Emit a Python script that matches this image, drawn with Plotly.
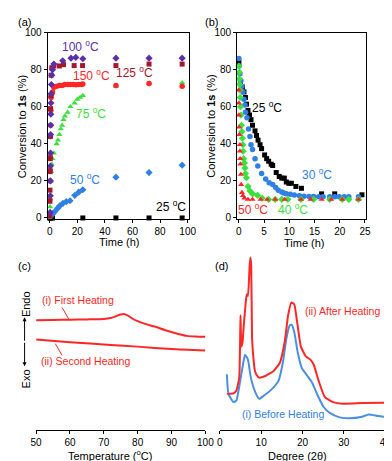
import plotly.graph_objects as go

FONT = "Arial, Liberation Sans, sans-serif"
W, H = 392, 461

# ---------- (a) conversion vs time at different temperatures ----------
a_t_100 = [0.3, 0.4, 0.5, 0.5, 0.6, 0.6, 0.7, 0.8, 0.9, 1.0, 1.2, 1.5, 2.0, 3.0, 9.4, 15.4, 18.9, 24, 48, 72, 96]
a_y_100 = [3, 12, 20, 28, 35, 45, 50, 56, 62, 67, 72, 77, 80, 83, 84.8, 86.2, 86.6, 85.9, 86.2, 86.2, 86.2]

a_t_125 = [0, 0.1, 0.2, 0.3, 0.4, 0.5, 0.6, 0.8, 1.0, 1.5, 3, 7, 10, 17.7, 23.8, 48, 72, 96]
a_y_125 = [1, 9, 15, 25, 32, 44, 59, 66, 77, 81, 82, 82, 82.7, 82.2, 82.2, 82.2, 83, 83]

a_t_150 = [0, 0.1, 0.2, 0.3, 0.4, 0.5, 0.6, 0.8, 1.0, 1.5, 2, 3, 5, 7, 9, 11, 13, 15, 17, 19, 21, 23, 24, 48, 72, 96]
a_y_150 = [2, 10, 20, 26, 33, 44, 50, 58, 65, 67, 68, 70.5, 71, 71.5, 71.5, 72, 72, 72, 72, 71.8, 72, 72, 72.3, 71.5, 72.5, 71]

a_t_75 = [0, 0.3, 0.5, 0.7, 1.0, 1.5, 2, 3, 5, 6, 7, 8, 9, 10, 11, 13, 15, 18, 20, 22, 24, 48, 72, 96]
a_y_75 = [0, 6, 12, 20, 25, 29, 32, 35, 40, 42, 45, 48, 50, 53, 55, 57, 60, 62, 64, 65, 66, 71, 72.5, 73]

a_t_50 = [0.3, 1, 2.3, 3.7, 5.8, 7.2, 9.6, 12, 14.7, 18.2, 21, 24, 48, 72, 96]
a_y_50 = [0.5, 1.5, 2.3, 3.5, 5.3, 6.5, 7.9, 8.8, 9.3, 12.2, 13.9, 15.2, 22, 24.5, 28.5]

a_t_25 = [0, 0.5, 1, 2, 24, 48, 72, 96]
a_y_25 = [0, 0, 0, 0, 0, 0, 0, 0]

# ---------- (b) reverse conversion vs time ----------
b_t_25 = [0, 0.3, 0.7, 1.0, 1.3, 1.5, 1.8, 2.1, 2.4, 2.7, 3.2, 3.5, 3.8, 4.2, 4.5, 5.1, 5.5, 5.9, 6.4, 6.7,
          7.4, 8.0, 8.5, 9.0, 9.4, 9.9, 10.4, 11.3, 12.4, 16.4, 19.0, 24.4]
b_y_25 = [84, 73, 70.6, 68, 65, 61.4, 58, 55.5, 53, 50, 47, 44.5, 42, 39.5, 37.4, 34, 32, 30.6, 29, 28.3,
          24.5, 22.4, 21.5, 21.5, 19.4, 18.7, 18.7, 17, 16, 13, 13, 12.5]

b_t_30 = [0, 0.05, 0.2, 0.4, 0.6, 0.8, 1.0, 1.2, 1.3, 1.6, 1.9, 2.2, 2.4, 2.7, 3.2, 3.75, 4.5, 5.3, 6.0, 6.7,
          7.3, 7.8, 8.5, 8.9, 9.4, 10.2, 11.0, 12.0, 12.9, 13.9, 14.8, 15.8, 16.7, 18.0, 19.0, 19.9, 20.9, 21.8, 23.7]
b_y_30 = [86, 82, 77.8, 74, 71, 68, 64, 61, 57, 54, 48, 44, 39.5, 37, 32, 28, 24, 21, 19, 18,
          16.4, 15, 14, 13.5, 13, 12.8, 12.4, 12, 11.7, 11.6, 11.6, 11.4, 11.4, 11.4, 11.4, 11.4, 11.4, 11.4, 11.4]

b_t_40 = [0, 0.1, 0.1, 0.15, 0.2, 0.25, 0.3, 0.4, 0.5, 0.6, 0.7, 0.8, 0.85, 0.95, 1.1, 1.2, 1.3, 1.5, 1.8, 2.2,
          2.7, 3.7, 4.6, 5.9, 7.2, 8.5, 9.7, 12.3, 14.8, 18.0, 20.5, 21.8, 23.7]
b_y_40 = [82, 78.6, 75, 72, 69, 65, 60, 55.5, 50, 46.6, 43, 39.5, 36, 32, 29.7, 27, 24, 21.7, 17, 14.6,
          13, 12.3, 10.7, 10, 10, 10, 10, 10, 10, 10, 10, 10, 10]

b_t_50 = [0, 0, 0, 0.05, 0.1, 0.2, 0.2, 0.25, 0.3, 0.4, 0.45, 0.6, 0.8, 1.1, 1.8, 2.7, 4.3, 5.6, 7.2, 9.1,
          12.3, 14.2, 16.4, 18.3, 20.5, 23.7]
b_y_50 = [69, 62, 55.5, 49, 45, 39.5, 36, 32, 29, 23.5, 18, 13.7, 12, 10.7, 10, 10, 10, 10, 10, 10,
          10, 10, 10, 10, 10, 10]

# ---------- (c) DSC ----------
c_temp_1 = [50, 55, 60, 65, 70, 72, 73.5, 75, 75.8, 77, 78.5, 80, 82, 85, 88, 91, 94.5, 97, 100]
c_heat_1 = [17, 17.2, 17.5, 17.8, 18.3, 19.3, 21, 22.8, 23.3, 22, 18.5, 16, 13.5, 10.5, 7, 4, 1, 0.3, 0]
c_temp_2 = [50, 60, 72, 80, 90, 100]
c_heat_2 = [-2.7, -5.5, -8.3, -10, -12.5, -14]

# ---------- (d) XRD ----------
d_deg_after = [1.7, 3.3, 4.0, 4.7, 5.0, 5.2, 5.5, 5.8, 6.2, 6.5, 6.8, 7.2, 7.4, 7.6, 7.8, 8.2, 8.5, 8.9, 9.5, 11,
               13, 14.5, 15.7, 16.5, 17.3, 18.0, 18.7, 19.6, 20.8, 21.9, 22.7, 23.9, 25.4, 27.4, 29.7, 34.4, 40]
d_int_after = [41.7, 42.3, 45, 58.3, 122, 90, 95, 112, 132, 143.3, 142, 172, 181, 172, 98.3, 75, 65, 61, 58.3, 60,
               65, 73.3, 95, 121.7, 135, 133.3, 115, 90, 80, 76.7, 71.7, 55, 38.3, 33.3, 31.7, 32.3, 32.7]
d_deg_before = [1.7, 2.1, 3.3, 4.0, 4.8, 5.6, 6.1, 6.8, 7.5, 8.6, 9.5, 10.7, 12.2, 14.2, 15.3, 16.1, 16.9, 17.4,
                18.0, 18.8, 19.8, 21.2, 22.3, 23.5, 25.1, 26.6, 29, 31.3, 34.4, 36, 38.3, 40]
d_int_before = [61.7, 41.7, 33.3, 35, 51.7, 71.7, 81.7, 76.7, 58.3, 43.3, 36.7, 40, 45, 55, 75, 98.3, 111.7, 112.3,
                105, 85, 68.3, 60, 53.3, 41.7, 28.3, 22.3, 17.7, 16.7, 18.3, 20.7, 19, 18.3]

PURPLE = "#5b2fa6"
DARKRED = "#a5182b"
RED = "#ff2626"
GREEN = "#3ce03c"
BLUE = "#2f80e6"
BLACK = "#000000"


def px(x):
    return x / W


def py(y):
    return 1 - y / H


fig = go.Figure()


def scatter(x, y, color, symbol, size, xa, ya):
    fig.add_trace(go.Scatter(
        x=x, y=y, mode="markers", xaxis=xa, yaxis=ya,
        marker=dict(color=color, symbol=symbol, size=size, line=dict(width=0)),
        showlegend=False, cliponaxis=False,
    ))


# panel a
scatter(a_t_25, a_y_25, BLACK, "square", 5, "x", "y")
scatter(a_t_50, a_y_50, BLUE, "diamond", 5.5, "x", "y")
scatter(a_t_75, a_y_75, GREEN, "triangle-up", 5.5, "x", "y")
scatter(a_t_150, a_y_150, RED, "circle", 5.5, "x", "y")
scatter(a_t_125, a_y_125, DARKRED, "square", 5, "x", "y")
scatter(a_t_100, a_y_100, PURPLE, "diamond", 5.5, "x", "y")

# panel b
scatter(b_t_25, b_y_25, BLACK, "square", 5, "x2", "y2")
scatter(b_t_30, b_y_30, BLUE, "circle", 5.5, "x2", "y2")
scatter(b_t_40, b_y_40, GREEN, "diamond", 5.5, "x2", "y2")
scatter(b_t_50, b_y_50, RED, "triangle-up", 5.5, "x2", "y2")

# panel c
for xs, ys in [(c_temp_1, c_heat_1), (c_temp_2, c_heat_2)]:
    fig.add_trace(go.Scatter(x=xs, y=ys, mode="lines", xaxis="x3", yaxis="y3",
                             line=dict(color=RED, width=2, shape="spline", smoothing=0.6),
                             showlegend=False))

# panel d
fig.add_trace(go.Scatter(x=d_deg_before, y=d_int_before, mode="lines", xaxis="x4", yaxis="y4",
                         line=dict(color="#4a90e2", width=2, shape="spline", smoothing=0.5),
                         showlegend=False))
fig.add_trace(go.Scatter(x=d_deg_after, y=d_int_after, mode="lines", xaxis="x4", yaxis="y4",
                         line=dict(color=RED, width=2, shape="spline", smoothing=0.4),
                         showlegend=False))

tickfont = dict(family=FONT, size=10, color="black")
box_axis = dict(showline=True, linecolor="black", linewidth=1, mirror=True, ticks="outside",
                ticklen=3, tickcolor="black", showgrid=False, zeroline=False, tickfont=tickfont)
open_axis = dict(showline=True, linecolor="black", linewidth=1, ticks="outside",
                 ticklen=3, tickcolor="black", showgrid=False, zeroline=False, tickfont=tickfont)

ya_dom = [py(210), py(19)]
fig.update_layout(
    width=W, height=H,
    margin=dict(l=0, r=0, t=0, b=0),
    paper_bgcolor="white", plot_bgcolor="white",
    font=dict(family=FONT, size=11, color="black"),
    xaxis=dict(box_axis, domain=[px(35), px(182)], range=[-1.5, 101], tickvals=[0, 20, 40, 60, 80, 100], anchor="y"),
    yaxis=dict(box_axis, domain=ya_dom, range=[-0.8, 100], tickvals=[0, 20, 40, 60, 80, 100], anchor="x"),
    xaxis2=dict(box_axis, domain=[px(232), px(366)], range=[-0.35, 25.2], tickvals=[0, 5, 10, 15, 20, 25], anchor="y2"),
    yaxis2=dict(box_axis, domain=ya_dom, range=[-0.8, 100], tickvals=[0, 20, 40, 60, 80, 100], anchor="x2"),
    xaxis3=dict(open_axis, domain=[px(23), px(199)], range=[50, 100], tickvals=[50, 60, 70, 80, 90, 100], anchor="y3"),
    yaxis3=dict(domain=[py(425), py(240)], range=[-95, 90], visible=False, anchor="x3"),
    xaxis4=dict(open_axis, domain=[px(214), px(386)], range=[0, 40], tickvals=[0, 10, 20, 30, 40], anchor="y4"),
    yaxis4=dict(domain=[py(425), py(240)], range=[5, 190], visible=False, anchor="x4"),
)

annotations = []


def label(text, x, y, color="black", size=12, angle=0, xanchor="center", yanchor="middle"):
    annotations.append(dict(text=text, x=px(x), y=py(y), xref="paper", yref="paper",
                            showarrow=False, xanchor=xanchor, yanchor=yanchor, textangle=angle,
                            font=dict(family=FONT, size=size, color=color)))


# panel letters
label("(a)", 2, 8, size=11, xanchor="left")
label("(b)", 196, 8, size=11, xanchor="left")
label("(c)", 2, 258, size=11, xanchor="left")
label("(d)", 207, 258, size=11, xanchor="left")

# axis titles
label("Conversion to <b>1s</b> (%)", 8, 115, size=11, angle=-90)
label("Conversion to <b>1s</b> (%)", 204, 115, size=11, angle=-90)
label("Time (h)", 110, 241, size=11, yanchor="bottom")
label("Time (h)", 302, 242, size=11, yanchor="bottom")
label("Temperature (<sup>o</sup>C)", 100, 460, size=11, yanchor="bottom")
label("Degree (2θ)", 295, 460, size=11, yanchor="bottom")

# series labels, panel a
label("100 <sup>o</sup>C", 69, 33, PURPLE)
label("150 <sup>o</sup>C", 81, 62, RED)
label("125 <sup>o</sup>C", 125, 59, DARKRED)
label("75 <sup>o</sup>C", 80, 101, GREEN)
label("50 <sup>o</sup>C", 74, 169, BLUE)
label("25 <sup>o</sup>C", 163, 196, BLACK)

# series labels, panel b
label("25 <sup>o</sup>C", 263, 95, BLACK)
label("30 <sup>o</sup>C", 315, 164, BLUE)
label("50 <sup>o</sup>C", 248, 199, RED)
label("40 <sup>o</sup>C", 290, 199, GREEN)

# panel c labels
label("(i) First Heating", 27, 292, RED, size=10.5, xanchor="left")
label("(ii) Second Heating", 26, 355, RED, size=10.5, xanchor="left")
label("Endo", 12, 297, size=11, angle=-90)
label("Exo", 12, 373, size=11, angle=-90)

# panel d labels
label("(ii) After Heating", 300, 304, RED, size=10.5, xanchor="left")
label("(i) Before Heating", 235, 409, BLUE, size=10.5, xanchor="left")

# Endo/Exo double arrow
for tip, off in ((310, 25), (360, -25)):
    annotations.append(dict(x=px(11), y=py(tip), xref="paper", yref="paper", text="",
                            showarrow=True, ax=0, ay=off,
                            arrowhead=2, arrowsize=0.8, arrowwidth=1, arrowcolor="black"))

fig.update_layout(annotations=annotations)

# leader lines in panel c
fig.add_shape(type="line", xref="paper", yref="paper", x0=px(50), y0=py(300), x1=px(57), y1=py(312),
              line=dict(color=RED, width=1))
fig.add_shape(type="line", xref="paper", yref="paper", x0=px(43), y0=py(337), x1=px(50), y1=py(349),
              line=dict(color=RED, width=1))

fig.write_html("out.html")
